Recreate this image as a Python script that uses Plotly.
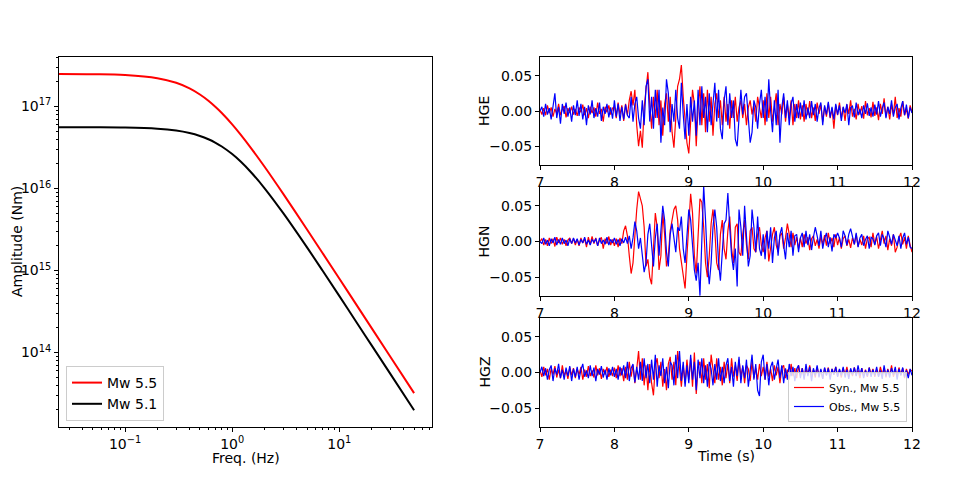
import plotly.graph_objects as go

# ---------------- Source spectra ----------------
freq = [0.02, 0.05, 0.1, 0.2, 0.3, 0.4, 0.5, 0.6, 0.7, 0.8, 1.0, 1.2, 1.5,
        2, 3, 5, 7, 10, 15, 20, 30, 50]
amp_mw55 = [2.487e17, 2.47e17, 2.415e17, 2.214e17, 1.945e17, 1.663e17, 1.40e17,
            1.175e17, 9.86e16, 8.33e16, 6.06e16, 4.54e16, 3.11e16, 1.853e16,
            8.59e15, 3.16e15, 1.625e15, 7.98e14, 3.55e14, 2.0e14, 8.89e13, 3.20e13]
amp_mw51 = [5.597e16, 5.584e16, 5.537e16, 5.357e16, 5.082e16, 4.741e16, 4.365e16,
            3.98e16, 3.60e16, 3.248e16, 2.627e16, 2.129e16, 1.579e16, 1.013e16,
            5.0e15, 1.912e15, 9.92e14, 4.90e14, 2.18e14, 1.232e14, 5.49e13, 1.98e13]

# ---------------- Waveforms (thousandths, sampled every 0.025 s from 7 s) ----------------
t_start = 7.0
dt = 0.025

hge_syn = [2, -5, 4, -6, 8, -3, 5, -8, 3, -4, 10, -6, 2, 7, -9, 4, -3, 6, -5, 3,
           -7, 5, -2, 9, -6, 4, -10, 6, -3, 5, -8, 12, -4, 3, -15, 6, -2, 8, -5, 4,
           6, -10, 12, -5, 8, -14, 10, -6, 15, 28, 8, 30, -20, -50, -28, -52, 5, 35, 55, 10,
           -25, 20, -10, 30, -20, 15, -35, 10, 25, -15, 20, -30, -52, -10, 35, 45, 65, 20, -20, -45,
           -60, -15, 30, 10, -50, 5, 35, -20, 25, -30, 30, -15, 20, -35, 10, 25, -10, 15, -20, 20,
           -15, 10, -25, 15, -10, 20, -15, 5, 15, -10, 10, -20, 5, 15, -5, 10, -15, 20, 5, -10,
           15, -20, 25, -10, 20, -15, 5, 25, -20, 10, -5, 20, -15, 10, -10, 15, -20, 10, -10, 15,
           -12, 8, -15, 10, -6, 14, -10, 5, -14, 12, -4, 9, -15, 6, -8, 11, -10, 4, -25, 8,
           -6, 12, -10, 5, -14, 9, -4, 15, -8, 3, -12, 10, -5, 7, -11, 14, -6, 4, -9, 13,
           -7, 5, -13, 10, -4, 18, -8, 6, -12, 9, -5, 20, -10, 4, -8, 14, -6, 3, -11, 8,
           -2]
hge_obs = [0, 6, -8, 10, -5, 4, -12, 8, 25, -10, 6, -18, 10, -4, 12, -8, 5, -15, 8, -6,
           15, -7, 10, -12, 6, -20, 8, -5, 15, -10, 4, -8, 12, -14, 6, -4, 10, -9, 5, -11,
           15, -8, 10, -14, 6, -12, 9, -6, -10, 20, -15, 10, 20, -10, -25, 15, -20, 35, 45, -15,
           20, -25, 30, -10, 30, -45, 5, -20, 45, 25, -30, 10, -15, 30, -10, -25, 40, -5, -40, 10,
           -35, 20, -15, 15, -35, 30, -20, 35, -10, 20, -30, 25, -20, 10, 40, -15, 30, -25, -40, 15,
           35, -20, 25, -10, 15, -40, -50, -10, 30, -5, 20, 25, -15, -45, -30, 15, 5, -25, 10, 30,
           -10, 20, -15, 45, 0, -30, 15, -20, 30, -45, 5, 25, -10, 15, -20, 10, 20, -15, 10, -10,
           12, -8, 15, -12, 5, -10, 14, -6, 10, -15, 4, 12, -20, 8, -5, 13, -9, 6, -12, 10,
           -5, 8, -14, 6, -3, 10, -20, 5, 7, -9, 12, -6, 3, -10, 8, -4, 11, -7, 5, -8,
           9, -5, 14, -8, 4, 12, -10, 6, -4, 15, -8, 5, 10, -12, 4, 14, -6, 9, -10, 5,
           -3]
hgn_syn = [0, 4, -5, 3, -6, 5, -3, 4, -7, 6, -2, 5, -4, 3, -6, 2, 5, -3, 4, -5,
           3, -6, 5, -2, 4, -8, 6, -4, 7, -3, 5, -6, 2, 6, -10, 4, -3, 7, -5, 3,
           -6, 4, -8, 5, -3, 15, 22, 8, -20, -45, -30, 10, 45, 70, 60, 50, 20, -35, -25, -50,
           -60, -10, 40, 20, -40, -20, 40, 10, -35, -20, 15, 30, 45, 50, 30, -10, -30, -50, -66, -20,
           30, 67, 40, -20, -45, 10, 60, 55, 20, -30, -50, -20, 25, 45, 15, -30, -40, 10, 30, -10,
           -25, 15, 35, -10, -30, 20, 25, -15, -20, 10, 30, -5, -25, 15, 20, -10, -15, 10, 20, -5,
           -15, 5, 15, -28, -10, 10, 20, -5, -15, 8, 12, -10, 5, 25, 10, -8, 12, -5, 6, -10,
           5, -8, 10, -3, 6, -12, 4, 8, -6, 3, -10, 7, -4, 9, -6, 12, -3, 5, -8, 10,
           -5, 6, -10, 4, 8, -6, 3, -9, 5, -4, 10, -7, 3, -5, 8, -10, 4, 6, -8, 12,
           -4, 7, -10, 5, 15, -3, 8, -12, 4, -6, 10, -15, -8, 5, 12, -4, 6, -10, 8, -5,
           -15]
hgn_obs = [0, -3, 5, -4, 2, -6, 4, -2, 6, -5, 3, -4, 5, -3, 2, -6, 4, -3, 5, -2,
           4, -5, 3, -2, 6, -4, 2, -5, 3, -1, 4, -6, 5, -3, 2, -4, 6, -5, 3, -2,
           5, -4, 3, -6, 4, -2, 6, -3, 8, -10, 5, 28, 15, -10, 5, -20, -43, -30, 10, 25,
           -10, -35, 5, 25, -20, 10, 50, 30, -15, -35, 10, 25, 5, -15, 20, 15, 35, -10, -30, 10,
           45, 30, -10, -40, -55, -30, -76, 10, 78, 30, -30, -60, -30, 20, 45, 20, -30, -55, -10, 25,
           30, 68, 20, -20, -40, -10, -63, 45, 20, -20, 50, 10, -35, -20, 45, 20, -15, 35, -10, -20,
           10, -25, 15, -10, 20, -30, 5, 15, -20, 10, 20, -5, -25, 12, -8, 15, -20, 8, 10, -15,
           5, 12, -8, 15, -5, 10, -12, 6, 20, 8, -6, 15, -10, 4, 12, -8, 6, -14, 10, 5,
           12, 5, -8, 15, 8, -5, 10, 18, 6, -4, 12, -8, 5, 10, -6, 3, 8, -10, 6, 4,
           -5, 8, 12, -6, 10, 4, -8, 15, 6, -4, 10, 3, -6, 8, -10, 5, 12, -4, 6, -8,
           -10]
hgz_syn = [3, -6, 8, -4, 5, -10, 6, -3, 9, -7, 4, -8, 10, -5, 3, -9, 7, -4, 6, -8,
           5, -3, 8, -10, 4, -6, 9, -5, 3, -7, 10, -4, 6, -9, 5, -3, 8, -6, 4, -5,
           7, -8, 10, -5, 6, -12, 8, -10, 15, -6, 10, -15, 5, 30, -10, 20, -18, 10, -25, 12,
           -15, -32, 10, 20, -8, 15, -20, 5, -25, 12, 22, -10, 15, -18, 30, 8, -20, 10, -15, 18,
           -10, 20, -20, 28, -30, 8, 15, -15, 20, -10, 12, -22, 25, 5, -15, 20, -10, 8, -18, 15,
           -8, 12, -15, 20, -6, 10, -12, 18, -5, 8, -15, 10, 5, -12, 15, -8, 6, -10, 12, -5,
           8, -10, 15, -6, 5, -12, 10, -4, 8, -15, 6, 10, -8, 4, -10, 12, -5, 6, -8, 10,
           -4, 6, -8, 5, -3, 10, -6, 4, -7, 8, -5, 3, -9, 6, -4, 7, -6, 5, -3, 8,
           -5, 4, -7, 6, -3, 8, -6, 4, -5, 7, -4, 3, -8, 6, -5, 4, -6, 7, -3, 5,
           -6, 4, -5, 8, -3, 6, -7, 5, -4, 10, -6, 3, -5, 7, -4, 6, -8, 5, -3, 4,
           2]
hgz_obs = [0, 8, -5, 6, -10, 4, 10, -12, 6, -3, 12, -8, 4, -10, 7, -5, 9, -12, 5, -6,
           8, -10, 4, 12, -6, 3, -8, 10, -5, 7, -12, 5, -3, 9, -7, 4, -10, 6, -4, 8,
           -6, 5, -10, 8, -4, 10, -8, 15, -12, 6, 12, -14, 8, -10, 15, -12, 20, -8, 12, -15,
           18, -10, 25, -20, 10, -5, 20, -15, 8, -22, 15, 10, -18, 25, -8, 30, -12, 15, -20, 10,
           -15, 25, -10, 15, -25, 18, -8, 20, -15, 10, -20, 15, 5, -18, 12, -10, 20, -12, 8, -15,
           10, 20, -12, 8, -20, 15, -5, 22, -15, 10, -8, 18, -20, 5, 25, -10, 12, -25, -33, 15,
           25, -10, 12, -18, 8, 15, -10, 5, 18, -8, 10, -15, 6, -10, 12, -5, 8, -12, 5, 10,
           -8, 6, -10, 12, -5, 8, -12, 6, -4, 10, -7, 5, -9, 7, -4, 6, -10, 5, -3, 8,
           -6, 5, -4, 8, -7, 4, -9, 6, -3, 7, -5, 10, -4, 6, -8, 3, -5, 7, -6, 4,
           -4, 8, -6, 3, -9, 10, -5, 4, -7, 6, -3, 8, -10, 5, -4, 7, -6, 3, -8, 5,
           -4]

channels = ["HGE", "HGN", "HGZ"]
syn_traces = [hge_syn, hgn_syn, hgz_syn]
obs_traces = [hge_obs, hgn_obs, hgz_obs]


def times(n):
    return [t_start + dt * i for i in range(n)]


def to_units(vals):
    return [v / 1000.0 for v in vals]


RED = "#ff0000"
BLUE = "#0000ff"
FONT = "DejaVu Sans"
FS = 14

fig = go.Figure()

# Spectra
fig.add_trace(go.Scatter(x=freq, y=amp_mw55, mode="lines", line=dict(color=RED, width=2, shape="spline"),
                         name="Mw 5.5", xaxis="x", yaxis="y", legend="legend"))
fig.add_trace(go.Scatter(x=freq, y=amp_mw51, mode="lines", line=dict(color="black", width=2, shape="spline"),
                         name="Mw 5.1", xaxis="x", yaxis="y", legend="legend"))

# Waveforms
for k in range(3):
    xa = "x%d" % (k + 2)
    ya = "y%d" % (k + 2)
    syn = syn_traces[k]
    obs = obs_traces[k]
    fig.add_trace(go.Scatter(x=times(len(syn)), y=to_units(syn), mode="lines",
                             line=dict(color=RED, width=1.2), name="Syn., Mw 5.5",
                             showlegend=(k == 2), xaxis=xa, yaxis=ya, legend="legend2"))
    fig.add_trace(go.Scatter(x=times(len(obs)), y=to_units(obs), mode="lines",
                             line=dict(color=BLUE, width=1.2), name="Obs., Mw 5.5",
                             showlegend=(k == 2), xaxis=xa, yaxis=ya, legend="legend2"))

# The page body has an 8 px margin, so the figure is drawn 8 px in from the window edge.
OFF = 8
W, H = 960 - OFF, 480 - OFF


def px_x(p):
    return (p - OFF) / W


def px_y(p):
    return 1 - (p - OFF) / H


axis_common = dict(showline=True, linecolor="black", linewidth=1, mirror=True,
                   ticks="outside", ticklen=4, tickwidth=1, tickcolor="black",
                   showgrid=False, zeroline=False, automargin=False,
                   tickfont=dict(family=FONT, size=FS, color="black"))

minor_x = [m * 10 ** e for e in (-2, -1, 0, 1) for m in range(2, 10)]
minor_y = [m * 10 ** e for e in (13, 14, 15, 16, 17) for m in range(2, 10)]

layout = dict(
    width=W, height=H,
    margin=dict(l=0, r=0, t=0, b=0, pad=0, autoexpand=False),
    paper_bgcolor="white", plot_bgcolor="white",
    font=dict(family=FONT, size=FS, color="black"),
    xaxis=dict(axis_common, type="log", domain=[px_x(59), px_x(432)], range=[-1.617, 1.866],
               tickvals=[0.1, 1, 10], ticktext=["10<sup>\u22121</sup>", "10<sup>0</sup>", "10<sup>1</sup>"],
               minor=dict(tickvals=minor_x, ticks="outside", ticklen=2, tickcolor="black"),
               anchor="y"),
    yaxis=dict(axis_common, type="log", domain=[px_y(427), px_y(57)], range=[13.092, 17.603],
               tickvals=[1e14, 1e15, 1e16, 1e17],
               ticktext=["10<sup>14</sup>", "10<sup>15</sup>", "10<sup>16</sup>", "10<sup>17</sup>"],
               minor=dict(tickvals=minor_y, ticks="outside", ticklen=2, tickcolor="black"),
               anchor="x"),
    legend=dict(x=px_x(66), y=px_y(421), xanchor="left", yanchor="bottom",
                bgcolor="rgba(255,255,255,0.8)", bordercolor="#cccccc", borderwidth=1,
                font=dict(family=FONT, size=FS, color="black"), itemwidth=30,
                tracegroupgap=0),
    legend2=dict(x=px_x(907), y=px_y(422), xanchor="right", yanchor="bottom",
                 bgcolor="rgba(255,255,255,0.8)", bordercolor="#cccccc", borderwidth=1,
                 font=dict(family=FONT, size=11, color="black"), itemwidth=30),
)

panel_px = [(57, 165), (187, 296), (318, 427)]
for k, (top, bot) in enumerate(panel_px):
    n = k + 2
    layout["xaxis%d" % n] = dict(axis_common, domain=[px_x(540), px_x(912)], range=[7, 12],
                                 tickvals=[7, 8, 9, 10, 11, 12], anchor="y%d" % n)
    layout["yaxis%d" % n] = dict(axis_common, domain=[px_y(bot), px_y(top)], range=[-0.0765, 0.0765],
                                 tickvals=[-0.05, 0, 0.05], ticktext=["\u22120.05", "0.00", "0.05"],
                                 anchor="x%d" % n)

fig.update_layout(**layout)

annotations = [
    dict(text="Amplitude (Nm)", x=px_x(17), y=px_y(242), textangle=-90),
    dict(text="Freq. (Hz)", x=px_x(245.5), y=px_y(458)),
    dict(text="Time (s)", x=px_x(726), y=px_y(456)),
]
for k, (top, bot) in enumerate(panel_px):
    annotations.append(dict(text=channels[k], x=px_x(484), y=px_y((top + bot) / 2), textangle=-90))

for a in annotations:
    fig.add_annotation(xref="paper", yref="paper", showarrow=False,
                       xanchor="center", yanchor="middle",
                       font=dict(family=FONT, size=FS, color="black"), **a)

fig.write_html("out.html")
